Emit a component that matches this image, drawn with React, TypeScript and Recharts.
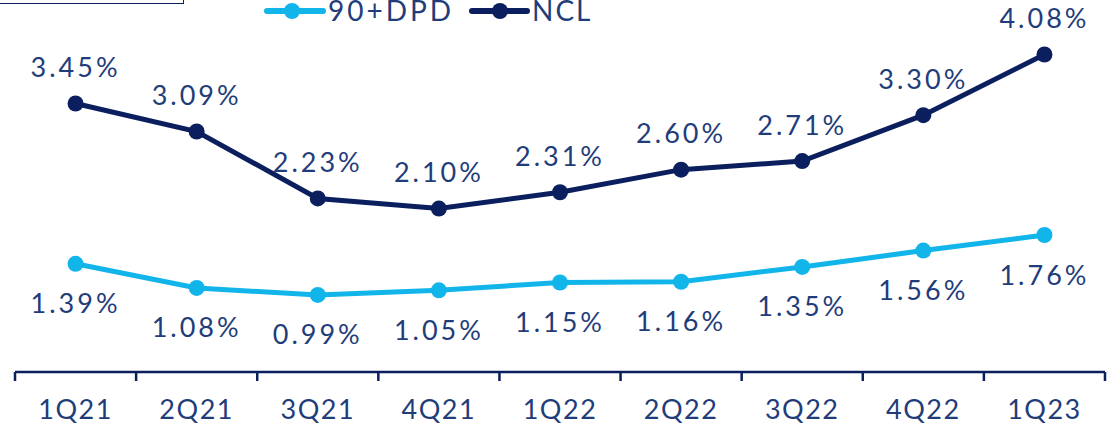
import React from 'react';
import { LineChart, Line, XAxis, YAxis, LabelList } from 'recharts';

const quarters = ['1Q21', '2Q21', '3Q21', '4Q21', '1Q22', '2Q22', '3Q22', '4Q22', '1Q23'];
const dpd90 = [1.39, 1.08, 0.99, 1.05, 1.15, 1.16, 1.35, 1.56, 1.76];
const ncl = [3.45, 3.09, 2.23, 2.1, 2.31, 2.6, 2.71, 3.3, 4.08];

const data = quarters.map((q, i) => ({ q, dpd: dpd90[i], ncl: ncl[i] }));

const NAVY = '#0b1f5e';
const CYAN = '#12b5ea';
const TEXT = '#1f3d7a';
const FONT = 'Lato, "DejaVu Sans", sans-serif';

const pct = (v: number) => `${v.toFixed(2)}%`;

const makeLabel = (dy: number) => (props: any) => {
  const { x, y, value } = props;
  return (
    <text
      x={x}
      y={y + dy}
      textAnchor="middle"
      dominantBaseline="central"
      fill={TEXT}
      fontSize={27}
      fontFamily={FONT}
      letterSpacing={3}
    >
      {pct(value)}
    </text>
  );
};

// category label plus the tick marks at the band edges
const QuarterTick = (props: any) => {
  const { x, y, payload, index, visibleTicksCount, width } = props;
  const half = payload.offset || width / visibleTicksCount / 2;
  const last = index === visibleTicksCount - 1;
  return (
    <g>
      <line x1={x - half} x2={x - half} y1={y} y2={y + 9} stroke={NAVY} strokeWidth={2.5} />
      {last && <line x1={x + half} x2={x + half} y1={y} y2={y + 9} stroke={NAVY} strokeWidth={2.5} />}
      <text
        x={x}
        y={y + 36}
        textAnchor="middle"
        dominantBaseline="central"
        fill={TEXT}
        fontSize={27}
        fontFamily={FONT}
        letterSpacing={1.5}
      >
        {payload.value}
      </text>
    </g>
  );
};

export default function App() {
  return (
    <div style={{ position: 'absolute', left: 0, top: 0, width: 1115, height: 425, overflow: 'hidden', background: '#fff' }}>
      <div
        style={{
          position: 'absolute',
          left: -2,
          top: -40,
          width: 184,
          height: 42,
          border: `1.5px solid ${NAVY}`,
        }}
      />
      <svg width={1115} height={30} style={{ position: 'absolute', left: 0, top: 0, zIndex: 2 }}>
        <line x1={267} x2={323} y1={11} y2={11} stroke={CYAN} strokeWidth={6} strokeLinecap="round" />
        <circle cx={292} cy={11} r={8} fill={CYAN} />
        <text x={328} y={21} fill={TEXT} fontSize={28} fontFamily={FONT} letterSpacing={3}>90+DPD</text>
        <line x1={472} x2={527} y1={11} y2={11} stroke={NAVY} strokeWidth={6} strokeLinecap="round" />
        <circle cx={500} cy={11} r={8} fill={NAVY} />
        <text x={532} y={21} fill={TEXT} fontSize={28} fontFamily={FONT} letterSpacing={2}>NCL</text>
      </svg>
      <LineChart width={1115} height={425} data={data} margin={{ top: 0, right: 10, bottom: 52, left: 15 }}>
        <YAxis hide domain={[0, 4.78]} />
        <XAxis
          dataKey="q"
          scale="band"
          height={1}
          axisLine={{ stroke: NAVY, strokeWidth: 2.5 }}
          tickLine={false}
          tickSize={0}
          tickMargin={0}
          interval={0}
          tick={<QuarterTick />}
        />
        <Line
          dataKey="ncl"
          stroke={NAVY}
          strokeWidth={5}
          dot={{ r: 8, fill: NAVY, stroke: 'none' }}
          activeDot={false}
          isAnimationActive={false}
        >
          <LabelList dataKey="ncl" content={makeLabel(-37)} />
        </Line>
        <Line
          dataKey="dpd"
          stroke={CYAN}
          strokeWidth={5}
          dot={{ r: 8, fill: CYAN, stroke: 'none' }}
          activeDot={false}
          isAnimationActive={false}
        >
          <LabelList dataKey="dpd" content={makeLabel(39)} />
        </Line>
      </LineChart>
    </div>
  );
}
